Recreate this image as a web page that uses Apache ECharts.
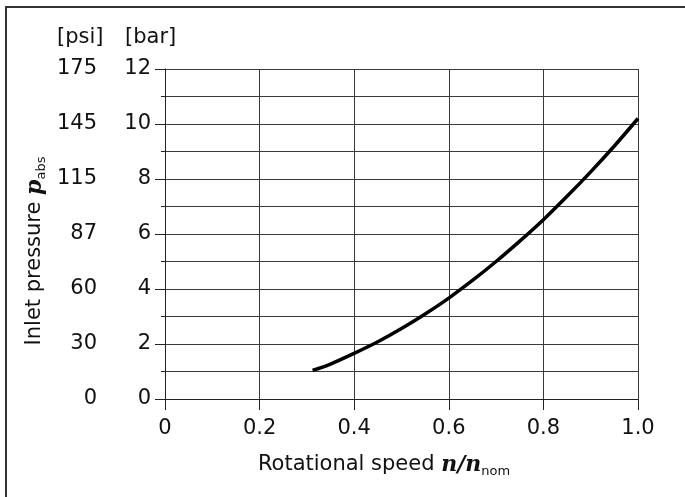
<!DOCTYPE html>
<html>
<head>
<meta charset="utf-8">
<script src="https://cdn.jsdelivr.net/npm/echarts@6/dist/echarts.min.js"></script>
<style>html,body{margin:0;padding:0;background:#fff;}#c{width:685px;height:497px;}</style>
</head>
<body>
<div id="c"></div>
<script>
// Data
const speed = [0.312, 0.35, 0.40, 0.45, 0.50, 0.55, 0.60, 0.65, 0.70, 0.75, 0.80, 0.85, 0.90, 0.95, 1.00];
const pressureBar = [1.04, 1.27, 1.66, 2.08, 2.56, 3.09, 3.67, 4.31, 5.0, 5.74, 6.52, 7.37, 8.26, 9.2, 10.2];
const barTicks = [0, 2, 4, 6, 8, 10, 12];
const psiLabels = ['0', '30', '60', '87', '115', '145', '175'];
const xTicks = ['0', '0.2', '0.4', '0.6', '0.8', '1.0'];

const FONT = 'DejaVu Sans';
const TXT = '#111';
const GRID = '#3a3a3a';
const richName = {
  v: { fontFamily: 'DejaVu Serif', fontStyle: 'italic', fontWeight: 'bold', fontSize: 22, color: TXT, lineHeight: 26 },
  t: { fontFamily: FONT, fontSize: 21, color: TXT, lineHeight: 26 },
  s: { fontFamily: FONT, fontSize: 13, color: TXT, lineHeight: 13, verticalAlign: 'bottom' }
};

const chart = echarts.init(document.getElementById('c'), null, { renderer: 'canvas' });
chart.setOption({
  animation: false,
  backgroundColor: '#fff',
  grid: { left: 165, right: 47, top: 69, bottom: 98, containLabel: false },
  xAxis: {
    type: 'value', min: 0, max: 1, interval: 0.2,
    name: '{t|Rotational speed }{v|n/n}{s|nom}',
    nameLocation: 'middle', nameGap: 53,
    nameTextStyle: { rich: richName, padding: [0, 35, 0, 0] },
    axisLine: { show: true, lineStyle: { color: '#222', width: 1 } },
    axisTick: { show: true, length: 11, lineStyle: { color: '#222', width: 1 } },
    splitLine: { show: true, lineStyle: { color: GRID, width: 1 } },
    axisLabel: {
      margin: 19, fontFamily: FONT, fontSize: 21, color: TXT,
      formatter: function (v) { return xTicks[Math.round(v / 0.2)]; }
    }
  },
  yAxis: [
    {
      type: 'value', min: 0, max: 12, interval: 2, position: 'left',
      name: '{t|Inlet pressure }{v|p}{s|abs}',
      nameLocation: 'middle', nameGap: 117, nameRotate: 90,
      nameTextStyle: { rich: richName, padding: [0, 34, 0, 0] },
      axisLine: { show: true, lineStyle: { color: '#222', width: 1 } },
      axisTick: { show: true, length: 10, lineStyle: { color: '#222', width: 1 } },
      splitLine: { show: true, lineStyle: { color: GRID, width: 1 } },
      axisLabel: { margin: 14, fontFamily: FONT, fontSize: 21, color: TXT }
    },
    {
      type: 'value', min: 0, max: 12, interval: 1, position: 'left',
      axisLine: { show: false },
      axisTick: { show: true, length: 4, lineStyle: { color: '#222', width: 1 } },
      splitLine: { show: true, lineStyle: { color: GRID, width: 1 } },
      axisLabel: { show: false }
    },
    {
      type: 'value', min: 0, max: 12, interval: 2, position: 'left',
      axisLine: { show: false }, axisTick: { show: false }, splitLine: { show: false },
      axisLabel: {
        margin: 68, fontFamily: FONT, fontSize: 21, color: TXT,
        formatter: function (v) { return psiLabels[barTicks.indexOf(v)]; }
      }
    }
  ],
  graphic: [
    { type: 'polyline', silent: true, shape: { points: [[6, 497], [6, 7], [685, 7]] }, style: { stroke: '#333', lineWidth: 2, fill: null } },
    { type: 'text', left: 57, top: 27, style: { text: '[psi]', font: '21px "DejaVu Sans"', fill: TXT } },
    { type: 'text', left: 125, top: 27, style: { text: '[bar]', font: '21px "DejaVu Sans"', fill: TXT } }
  ],
  series: [{
    type: 'line', xAxisIndex: 0, yAxisIndex: 0,
    data: speed.map((s, i) => [s, pressureBar[i]]),
    smooth: 0.3, showSymbol: false, symbol: 'none',
    lineStyle: { color: '#000', width: 3.5 }
  }]
});
</script>
</body>
</html>
